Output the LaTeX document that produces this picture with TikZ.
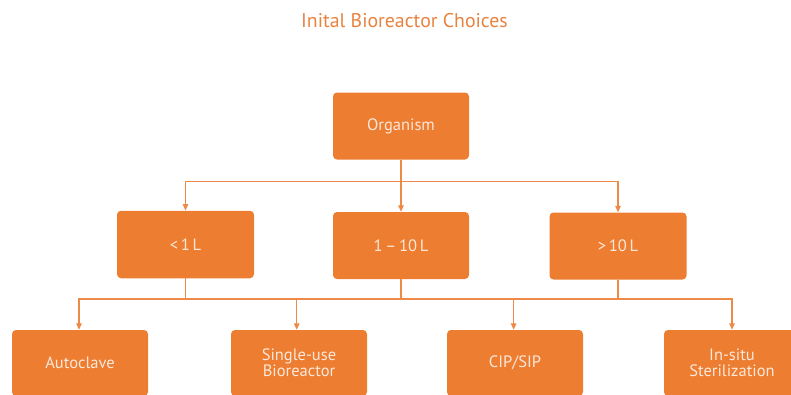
\documentclass[tikz,border=0pt]{standalone}
\usepackage{fontspec}
\setmainfont{PT Sans}
\usetikzlibrary{arrows.meta}
\definecolor{boxorange}{HTML}{ED7D31}
\definecolor{lineorange}{HTML}{EE8A48}
\definecolor{titleorange}{HTML}{E9823F}
\definecolor{boxtext}{HTML}{FBE8DA}
\tikzset{
  box/.style={fill=boxorange, rounded corners=4pt, minimum width=136pt, minimum height=67pt,
    inner sep=0pt, text=boxtext, font=\fontsize{16.5}{18}\selectfont, align=center},
  conn/.style={draw=lineorange, line width=1.3pt},
  arr/.style={conn, -{Triangle[width=5.5pt,length=6.5pt]}}
}
\begin{document}
\begin{tikzpicture}[x=1pt,y=-1pt]
\useasboundingbox (0,0) rectangle (791,394);
\clip (0,0) rectangle (791,394);
\node[text=titleorange, font=\fontsize{19.8}{21}\selectfont] (title) at (404.5,21) {Inital Bioreactor Choices};
\node[box] (org) at (401,126) {Organism};
\node[box, minimum width=137pt, minimum height=67.5pt] (r1) at (185.5,244.5) {<\,1\,L};
\node[box] (r2) at (401,245.5) {1\,–\,10\,L};
\node[box, minimum width=137pt] (r3) at (618,246) {>\,10\,L};
\node[box, minimum height=66pt] (b1) at (80,363) {Autoclave};
\node[box, minimum height=66pt] (b2) at (299,363) {Single-use\\[-2pt]Bioreactor};
\node[box, minimum height=66pt] (b3) at (515,363) {CIP/SIP};
\node[box, minimum height=66pt] (b4) at (732,363) {In-situ\\[-2pt]Sterilization};
\coordinate (j1) at (401,181.7);
\coordinate (j2) at (401,299);
\draw[arr] (org) -- (r2);
\draw[arr] (j1) -| (r1.north);
\draw[arr] (j1) -| (r3.north);
\draw[conn] (r2) -- (j2);
\draw[conn] (r1.south) |- (j2);
\draw[conn] (r3.south) |- (j2);
\draw[arr] (j2) -| ([xshift=-1pt]b1.north);
\draw[arr] (j2) -| ([xshift=-2.3pt]b2.north);
\draw[arr] (j2) -| ([xshift=-1.4pt]b3.north);
\draw[arr] (j2) -| (b4.north);
\end{tikzpicture}
\end{document}
